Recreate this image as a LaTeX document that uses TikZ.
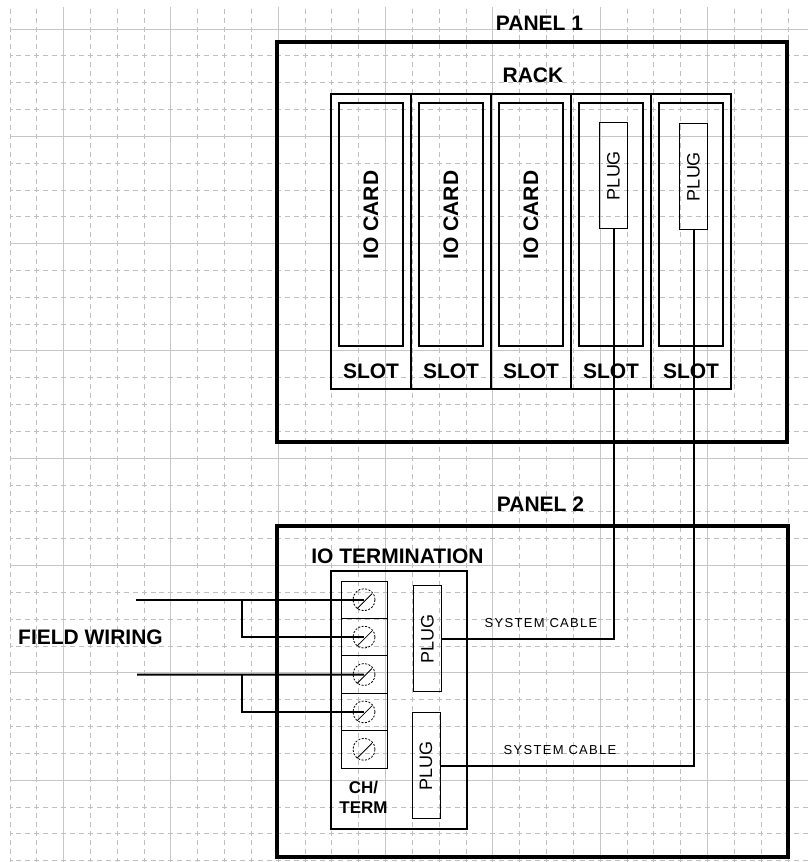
\documentclass[tikz,border=0pt]{standalone}
\usepackage{fontspec}
\setmainfont{Liberation Sans}
\newfontfamily\cablefont[LetterSpace=10]{Liberation Sans}
\usepackage{graphicx}
\usepackage{tikz}
\usetikzlibrary{positioning}

\tikzset{
	majorgrid/.style={draw=gray!45, line width=1pt},
	minorgrid/.style={draw=gray!50, line width=1pt, dash pattern=on 5pt off 3.94pt},
	panelbox/.style={draw, line width=3.5pt, outer sep=0pt},
	slotbox/.style={draw, line width=2pt, minimum width=80, minimum height=295, outer sep=0pt},
	cardbox/.style={draw, line width=2.5pt, minimum width=64, minimum height=243, outer sep=0pt},
	plugbox/.style={draw, line width=1pt, minimum width=28, minimum height=106, inner sep=0pt, outer sep=0pt, font=\fontsize{18}{20}\selectfont},
	termbox/.style={draw, line width=2.5pt, minimum width=136, minimum height=258, outer sep=0pt},
	termrow/.style={draw, line width=1pt, minimum width=46, minimum height=37.4, outer sep=0pt},
	screw/.style={circle, draw, line width=0.8pt, dash pattern=on 2pt off 1.5pt, minimum size=22, inner sep=0pt},
	lbl/.style={font=\fontsize{21}{25}\selectfont\bfseries, inner sep=0pt},
	cablelbl/.style={font=\cablefont\fontsize{13}{15}\selectfont, inner sep=0pt},
	cable/.style={draw, line width=2pt},
	wire/.style={draw, line width=2pt},
}

\begin{document}
\begin{tikzpicture}[x=1pt, y=-1pt]
		\useasboundingbox (0,0) rectangle (808,862);
		
		% grid
		\begin{scope}
			\clip (10,7) rectangle (808,862);
			\foreach \k in {0,...,29} {
				\pgfmathtruncatemacro{\m}{mod(\k,4)}
				\ifnum\m=2
					\draw[majorgrid] (10+26.83*\k,7) -- (10+26.83*\k,862);
				\else
					\draw[minorgrid, dash phase=7.29pt] (10+26.83*\k,7) -- (10+26.83*\k,862);
				\fi
			}
			\foreach \k in {1,...,32} {
				\pgfmathtruncatemacro{\m}{mod(\k,4)}
				\ifnum\m=1
					\draw[majorgrid] (10,2.2+26.83*\k) -- (808,2.2+26.83*\k);
				\else
					\draw[minorgrid, dash phase=2.5pt] (10,2.2+26.83*\k) -- (808,2.2+26.83*\k);
				\fi
			}
		\end{scope}
		
		% panel 1 and rack
		\node[panelbox, minimum width=510, minimum height=400] (panel1) at (532,242) {};
		\node[lbl, anchor=base] (panel1lbl) at (539.5,30) {PANEL 1};
		\node[lbl, anchor=base] (racklbl) at (533,82) {RACK};
		
		\foreach \i in {1,...,5} {
			\node[slotbox] (slot\i) at (291+80*\i,241.5) {};
			\node[cardbox, below=9pt of slot\i.north] (card\i) {};
			\node[lbl, anchor=base] (slotlbl\i) at ([yshift=11pt]slot\i.south) {SLOT};
		}
		\foreach \i in {1,2,3}
			\node[lbl, rotate=90] (cardlbl\i) at ([yshift=9.5pt]card\i.center) {IO CARD};
		
		\node[plugbox] (rplug4) at (613.5,175.5) {\rotatebox{90}{PLUG}};
		\node[plugbox] (rplug5) at (693.5,176.5) {\rotatebox{90}{PLUG}};
		
		% panel 2 and io termination
		\node[panelbox, minimum width=511, minimum height=331] (panel2) at (532.5,691.5) {};
		\node[lbl, anchor=base] (panel2lbl) at (540.5,511) {PANEL 2};
		\node[lbl, anchor=base] (iotermlbl) at (397.5,563) {IO TERMINATION};
		\node[termbox] (ioterm) at (399,700) {};
		
		\node[termrow] (t1) at (364,599.7) {};
		\foreach \i/\j in {2/1,3/2,4/3,5/4}
			\node[termrow, below=0pt of t\j] (t\i) {};
		\foreach \i in {1,...,5} {
			\node[screw] (s\i) at (t\i.center) {};
			\draw[line width=0.8pt] ([shift={(-7,9)}]s\i.center) -- ([shift={(8,-6)}]s\i.center);
		}
		\node[lbl, font=\fontsize{17}{20}\selectfont\bfseries, align=center] (chterm) at (363.5,797) {CH/\\TERM};
		
		\node[plugbox] (tplug1) at (427.5,638.5) {\rotatebox{90}{PLUG}};
		\node[plugbox] (tplug2) at (426,765.5) {\rotatebox{90}{PLUG}};
		
		% system cables
		\draw[cable] (rplug4) |- (tplug1);
		\draw[cable] (rplug5) |- (tplug2);
		\node[cablelbl, anchor=base] (cable1lbl) at (541,627) {SYSTEM CABLE};
		\node[cablelbl, anchor=base] (cable2lbl) at (560,754) {SYSTEM CABLE};
		
		% field wiring
		\node[lbl, anchor=base] (fieldlbl) at (90.5,644) {FIELD WIRING};
		\coordinate (fw1) at (136,599.7);
		\coordinate (fj1) at (242,599.7);
		\coordinate (fw2) at (137,674.5);
		\coordinate (fj2) at (242,674.5);
		\draw[wire] (fw1) -- (s1.center);
		\draw[wire] (fj1) |- (s2.center);
		\draw[wire] (fw2) -- (s3.center);
		\draw[wire] (fj2) |- (s4.center);
	\end{tikzpicture}
\end{document}
